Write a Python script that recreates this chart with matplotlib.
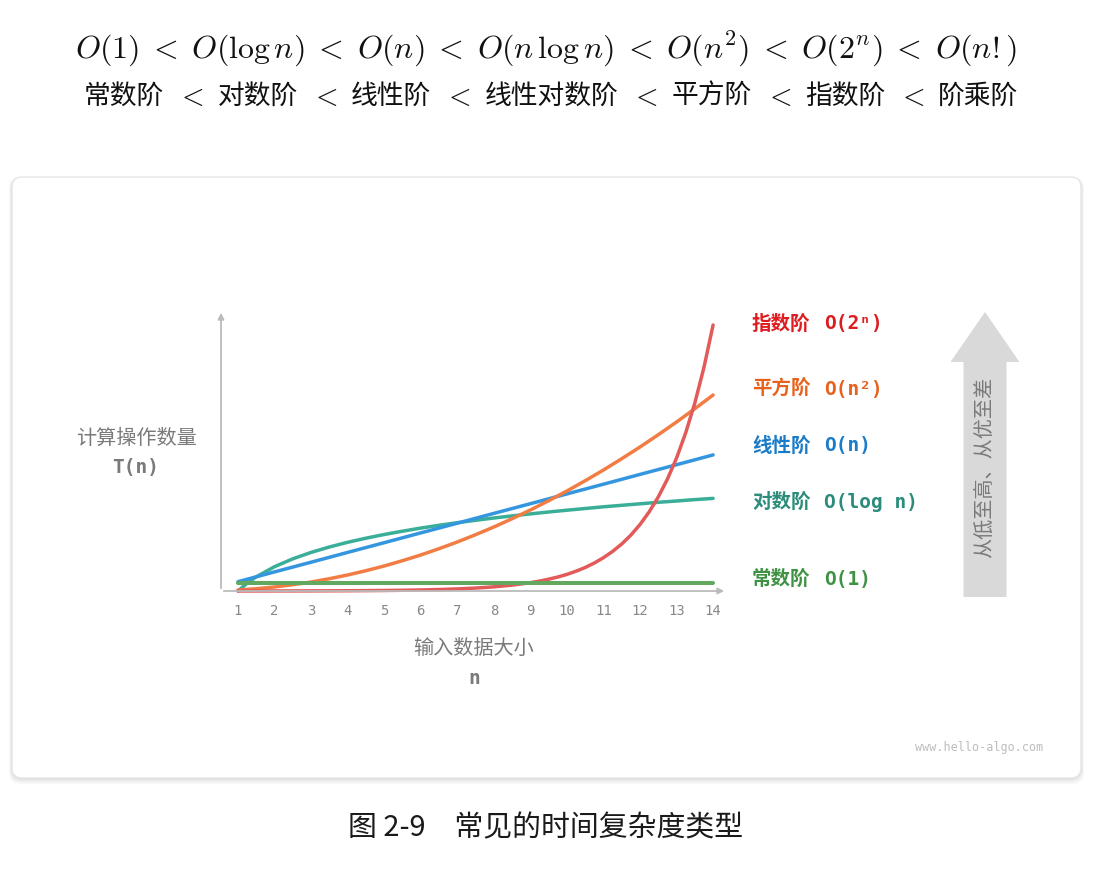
import numpy as np
import matplotlib
matplotlib.use('Agg')
import matplotlib.pyplot as plt
from matplotlib.patches import FancyBboxPatch, FancyArrow

plt.rcParams['font.family'] = ['Noto Sans CJK SC', 'DejaVu Sans']
plt.rcParams['mathtext.fontset'] = 'cm'

# values (arbitrary units of "operations")
n_ticks = list(range(1, 15))
n_half = [1, 1.5, 2, 2.5, 3, 3.5, 4, 4.5, 5, 5.5, 6, 6.5, 7, 7.5, 8, 8.5, 9, 9.5,
          10, 10.5, 11, 11.5, 12, 12.5, 13, 13.5, 14]
const_y = [8] * 14
linear_y = [9.3, 19.1, 28.8, 38.6, 48.3, 58.1, 67.8, 77.6, 87.3, 97.1, 106.8, 116.6, 126.3, 136.1]
log_x = [1, 1.25] + n_half[1:]
log_y = [0, 7.8, 14.2, 24.3, 32.2, 38.6, 44.0, 48.7, 52.8, 56.5, 59.8, 62.9, 65.7, 68.3, 70.7,
         73.0, 75.1, 77.1, 79.0, 80.8, 82.5, 84.2, 85.7, 87.2, 88.7, 90.0, 91.4, 92.6]
quad_y = [1, 2.3, 4, 6.3, 9, 12.3, 16, 20.3, 25, 30.3, 36, 42.3, 49, 56.3, 64, 72.3, 81, 90.3,
          100, 110.3, 121, 132.3, 144, 156.3, 169, 182.3, 196]
exp_x = [1, 1.5, 2, 2.5, 3, 3.5, 4, 4.5, 5, 5.5, 6, 6.5, 7, 7.5, 8, 8.5, 9, 9.25, 9.5, 9.75,
         10, 10.25, 10.5, 10.75, 11, 11.25, 11.5, 11.75, 12, 12.25, 12.5, 12.75, 13, 13.25,
         13.5, 13.75, 14]
exp_y = [0.03, 0.05, 0.06, 0.09, 0.13, 0.18, 0.26, 0.37, 0.52, 0.73, 1.04, 1.47, 2.08, 2.94,
         4.16, 5.88, 8.3, 9.9, 11.8, 14.0, 16.6, 19.8, 23.5, 28.0, 33.3, 39.6, 47.0, 55.9,
         66.5, 79.1, 94.1, 111.9, 133, 158.2, 188, 223.7, 266]

c_const, c_lin, c_log, c_quad, c_exp = '#62a85f', '#3596e0', '#3aae98', '#f27d44', '#e35a5a'
t_const, t_lin, t_log, t_quad, t_exp = '#3f9144', '#1a7cc9', '#2b8c7a', '#e8611c', '#dd1c1f'

orders = ['常数阶', '对数阶', '线性阶', '线性对数阶', '平方阶', '指数阶', '阶乘阶']

fig = plt.figure(figsize=(11, 8.8), dpi=100)
fig.patch.set_facecolor('white')

# background layer in pixel coordinates
bg = fig.add_axes([0, 0, 1, 1])
bg.set_xlim(0, 1100)
bg.set_ylim(880, 0)
bg.axis('off')

for off, a in [(6, 0.03), (4, 0.04), (2, 0.05)]:
    bg.add_patch(FancyBboxPatch((12 - off / 2, 177), 1069 + off, 601 + off,
                                boxstyle='round,pad=0,rounding_size=12',
                                fc='black', ec='none', alpha=a))
bg.add_patch(FancyBboxPatch((12, 177), 1069, 601, boxstyle='round,pad=0,rounding_size=10',
                            fc='white', ec='#e6e6e6', lw=1))

lt = r'\;<\;'
formula = '$O(1)' + lt + r'O(\log n)' + lt + 'O(n)' + lt + r'O(n\,\log n)' + lt + \
          'O(n^2)' + lt + 'O(2^n)' + lt + 'O(n!)$'
bg.text(546, 49, formula, ha='center', va='center', fontsize=23, color='#111111')

# second line: pieces laid out one after another
fs_cn = 19.3
cw = fs_cn * 100 / 72
sep = 53
xx = 84
for i, word in enumerate(orders):
    w = cw * len(word)
    bg.text(xx + w / 2, 96, word, ha='center', va='center', fontsize=fs_cn, color='#111111')
    xx += w
    if i < len(orders) - 1:
        bg.text(xx + sep / 2 - 1, 97, r'$<$', ha='center', va='center', fontsize=21, color='#111111')
        xx += sep

bg.text(546, 828, '图 2-9\u3000常见的时间复杂度类型', ha='center', va='center',
        fontsize=20.8, color='#1a1a1a')

# right arrow
bg.add_patch(FancyArrow(985, 597, 0, -285, width=43, head_width=69, head_length=50,
                        length_includes_head=True, fc='#d9d9d9', ec='none'))
bg.text(985, 467, '从低至高、从优至差', rotation=90, ha='center', va='center',
        fontsize=14.5, color='#7a7a7a')

bg.text(979, 748, 'www.hello-algo.com', ha='center', va='center', fontsize=8.5,
        family='DejaVu Sans Mono', color='#bdbdbd')

# axis labels
bg.text(136, 438, '计算操作数量', ha='center', va='center', fontsize=14.5, color='#7a7a7a')
bg.text(136, 467, 'T(n)', ha='center', va='center', fontsize=14, color='#7a7a7a',
        fontweight='bold', family='DejaVu Sans Mono')
bg.text(474, 648, '输入数据大小', ha='center', va='center', fontsize=14.5, color='#7a7a7a')
bg.text(474, 679, 'n', ha='center', va='center', fontsize=14, color='#7a7a7a',
        fontweight='bold', family='DejaVu Sans Mono')

labels = [('指数阶', 'O(2ⁿ)', 324, t_exp), ('平方阶', 'O(n²)', 389, t_quad),
          ('线性阶', 'O(n)', 446, t_lin), ('对数阶', 'O(log n)', 502, t_log),
          ('常数阶', 'O(1)', 579, t_const)]
for cn, big_o, yy, col in labels:
    bg.text(752, yy, cn, ha='left', va='center', fontsize=14, color=col, fontweight='bold')
    bg.text(824, yy, big_o, ha='left', va='center', fontsize=14, color=col, fontweight='bold',
            family=['DejaVu Sans Mono', 'DejaVu Sans'])

# chart
ax = fig.add_axes([221 / 1100, 1 - 591 / 880, (727 - 221) / 1100, (591 - 310) / 880])
ax.patch.set_alpha(0)
ax.set_xlim(0.535, 14.38)
ax.set_ylim(0, 281)
for s in ax.spines.values():
    s.set_visible(False)
ax.set_yticks([])
ax.set_xticks(n_ticks)
ax.set_xticklabels([str(i) for i in n_ticks], family='DejaVu Sans Mono', fontsize=10,
                   color='#888888')
ax.tick_params(axis='x', length=0, pad=9)

ax.annotate('', xy=(1.0, 0), xytext=(0, 0), xycoords='axes fraction',
            arrowprops=dict(arrowstyle='-|>', color='#bbbbbb', lw=1.3, mutation_scale=9))
ax.annotate('', xy=(0, 1.0), xytext=(0, 0), xycoords='axes fraction',
            arrowprops=dict(arrowstyle='-|>', color='#bbbbbb', lw=1.3, mutation_scale=9))

lw = 2.5
ax.plot(log_x, log_y, color=c_log, lw=lw, solid_capstyle='round', clip_on=False)
ax.plot(n_ticks, linear_y, color=c_lin, lw=lw, solid_capstyle='round', clip_on=False)
ax.plot(n_half, quad_y, color=c_quad, lw=lw, solid_capstyle='round', clip_on=False)
ax.plot(exp_x, exp_y, color=c_exp, lw=lw, solid_capstyle='round', clip_on=False)
ax.plot(n_ticks, const_y, color=c_const, lw=2.9, solid_capstyle='round', clip_on=False)

fig.savefig('out.png', dpi=100)
